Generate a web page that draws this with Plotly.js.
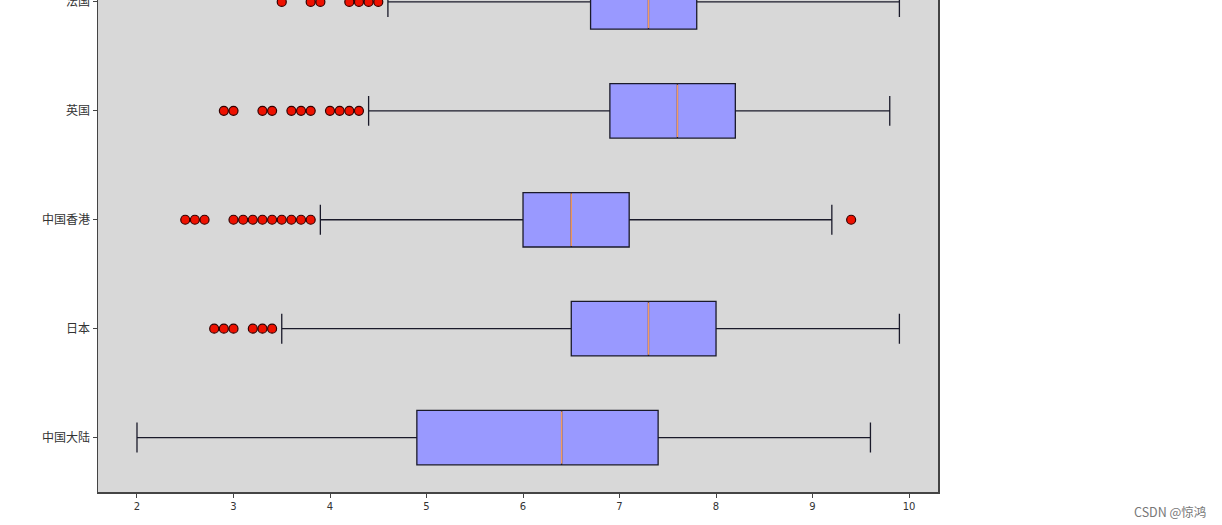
<!DOCTYPE html>
<html>
<head>
<meta charset="utf-8">
<script src="https://cdn.plot.ly/plotly-3.0.1.min.js"></script>
<style>html,body{margin:0;padding:0;background:#fff;}#chart{width:1222px;height:525px;}</style>
</head>
<body>
<div id="chart"></div>
<script>
var categories = ['中国大陆', '日本', '中国香港', '英国', '法国'];
var lowerWhisker = [2.0, 3.5, 3.9, 4.4, 4.6];
var q1Values = [4.9, 6.5, 6.0, 6.9, 6.7];
var medianValues = [6.4, 7.3, 6.5, 7.6, 7.3];
var q3Values = [7.4, 8.0, 7.1, 8.2, 7.8];
var upperWhisker = [9.6, 9.9, 9.2, 9.8, 9.9];
var outliers = [
  [],
  [2.8, 2.9, 3.0, 3.2, 3.3, 3.4],
  [2.5, 2.6, 2.7, 3.0, 3.1, 3.2, 3.3, 3.4, 3.5, 3.6, 3.7, 3.8, 9.4],
  [2.9, 3.0, 3.3, 3.4, 3.6, 3.7, 3.8, 4.0, 4.1, 4.2, 4.3],
  [3.5, 3.8, 3.9, 4.2, 4.3, 4.4, 4.5]
];
var xTicks = [2, 3, 4, 5, 6, 7, 8, 9, 10];

var traces = [];
var halfW = 0.25;
categories.forEach(function (c, i) {
  var pos = i + 1;
  traces.push({
    type: 'box', orientation: 'h', y: [pos],
    q1: [q1Values[i]], median: [medianValues[i]], q3: [q3Values[i]],
    lowerfence: [lowerWhisker[i]], upperfence: [upperWhisker[i]],
    boxpoints: false, width: 0.5, whiskerwidth: 0.55,
    fillcolor: '#9999ff', line: {color: '#1a1a2a', width: 1.3},
    hoverinfo: 'skip', showlegend: false
  });
});
categories.forEach(function (c, i) {
  var pos = i + 1;
  traces.push({
    type: 'scatter', mode: 'lines',
    x: [medianValues[i], medianValues[i]], y: [pos - halfW + 0.01, pos + halfW - 0.01],
    line: {color: '#f39a60', width: 1.4}, showlegend: false, hoverinfo: 'skip'
  });
});
var ox = [], oy = [];
outliers.forEach(function (arr, i) {
  arr.forEach(function (v) { ox.push(v); oy.push(i + 1); });
});
traces.push({
  type: 'scatter', mode: 'markers', x: ox, y: oy,
  marker: {size: 9, color: '#ee1100', line: {color: '#300', width: 1.2}},
  showlegend: false, hoverinfo: 'skip'
});

var layout = {
  width: 1222, height: 525,
  margin: {l: 98, r: 284, t: 0, b: 33},
  paper_bgcolor: '#ffffff',
  plot_bgcolor: '#d8d8d8',
  showlegend: false,
  xaxis: {
    range: [1.596, 10.3], tickvals: xTicks, ticktext: xTicks.map(String),
    showgrid: false, zeroline: false,
    showline: true, linecolor: '#444', linewidth: 1.5,
    ticks: 'outside', ticklen: 4, tickcolor: '#444', tickwidth: 1,
    tickfont: {family: 'DejaVu Sans, sans-serif', size: 10, color: '#333'}
  },
  yaxis: {
    range: [0.5, 5.018], tickvals: [1, 2, 3, 4, 5], ticktext: categories,
    ticklabeloverflow: 'allow',
    showgrid: false, zeroline: false,
    showline: true, mirror: true, linecolor: '#444', linewidth: 1.5,
    ticks: 'outside', ticklen: 4, tickcolor: '#444', tickwidth: 1,
    tickfont: {family: 'Noto Sans CJK SC, sans-serif', size: 12, color: '#333'}
  },
  annotations: [{
    text: 'CSDN @惊鸿', xref: 'paper', yref: 'paper',
    x: 0, xanchor: 'right', y: 0, yanchor: 'top',
    showarrow: false, font: {family: 'Noto Sans CJK SC, sans-serif', size: 12.5, color: '#777'}
  }]
};
var plotW = 1222 - 98 - 284, plotH = 525 - 33;
layout.annotations[0].x = (1208 - 98) / plotW;
layout.annotations[0].y = (492 - 500) / plotH;

Plotly.newPlot('chart', traces, layout, {displayModeBar: false, staticPlot: true});
</script>
</body>
</html>
